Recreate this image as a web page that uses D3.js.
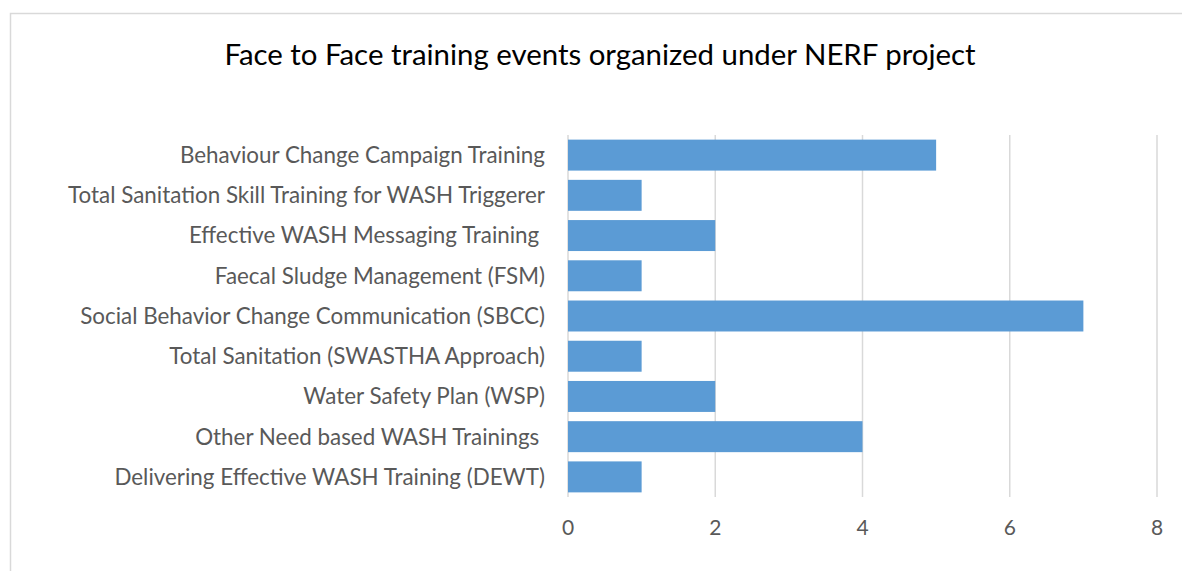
<!DOCTYPE html>
<html>
<head>
<meta charset="utf-8">
<script src="https://cdn.jsdelivr.net/npm/d3@7"></script>
<style>
  body { margin: 0; background: #fff; }
  svg text { font-family: Lato, "Open Sans", sans-serif; }
</style>
</head>
<body>
<div id="chart"></div>
<script>
const categories = [
    'Behaviour Change Campaign Training',
    'Total Sanitation Skill Training for WASH Triggerer',
    'Effective WASH Messaging Training ',
    'Faecal Sludge Management (FSM)',
    'Social Behavior Change Communication (SBCC)',
    'Total Sanitation (SWASTHA Approach)',
    'Water Safety Plan (WSP)',
    'Other Need based WASH Trainings ',
    'Delivering Effective WASH Training (DEWT)'
];
const values = [5, 1, 2, 1, 7, 1, 2, 4, 1];
const xTicks = [0, 2, 4, 6, 8];
const title = 'Face to Face training events organized under NERF project';

const width = 1182, height = 571;
const margin = { top: 135, right: 25, bottom: 74, left: 568 };

const svg = d3.select('#chart').append('svg')
    .attr('width', width)
    .attr('height', height);

// chart frame
svg.append('rect')
    .attr('x', 10.5)
    .attr('y', 13.5)
    .attr('width', width + 20)
    .attr('height', height + 20)
    .attr('fill', 'none')
    .attr('stroke', '#d9d9d9')
    .attr('stroke-width', 1.5);

svg.append('text')
    .attr('x', 600)
    .attr('y', 65)
    .attr('text-anchor', 'middle')
    .style('font-size', '29.4px')
    .attr('fill', '#000')
    .text(title);

const x = d3.scaleLinear()
    .domain([0, 8])
    .range([margin.left, width - margin.right]);

const y = d3.scaleBand()
    .domain(categories)
    .range([margin.top, height - margin.bottom])
    .paddingInner(0.23)
    .paddingOuter(0.115);

// gridlines
svg.append('g')
    .selectAll('line')
    .data(xTicks)
    .enter()
    .append('line')
    .attr('x1', d => x(d))
    .attr('x2', d => x(d))
    .attr('y1', margin.top)
    .attr('y2', height - margin.bottom)
    .attr('stroke', '#d9d9d9')
    .attr('stroke-width', 1.5);

svg.append('g')
    .selectAll('rect')
    .data(values)
    .enter()
    .append('rect')
    .attr('x', x(0))
    .attr('y', (d, i) => y(categories[i]))
    .attr('width', d => x(d) - x(0))
    .attr('height', y.bandwidth())
    .attr('fill', '#5b9bd5');

// category labels
svg.append('g')
    .selectAll('text')
    .data(categories)
    .enter()
    .append('text')
    .attr('x', margin.left - 23)
    .attr('y', d => y(d) + y.bandwidth() / 2)
    .attr('dy', '0.35em')
    .attr('text-anchor', 'end')
    .style('font-size', '22.4px')
    .style('white-space', 'pre')
    .attr('fill', '#595959')
    .text(d => d);

// x tick labels
svg.append('g')
    .selectAll('text')
    .data(xTicks)
    .enter()
    .append('text')
    .attr('x', d => x(d))
    .attr('y', 528)
    .attr('dy', '0.35em')
    .attr('text-anchor', 'middle')
    .style('font-size', '21px')
    .attr('fill', '#595959')
    .text(d => d);
</script>
</body>
</html>
